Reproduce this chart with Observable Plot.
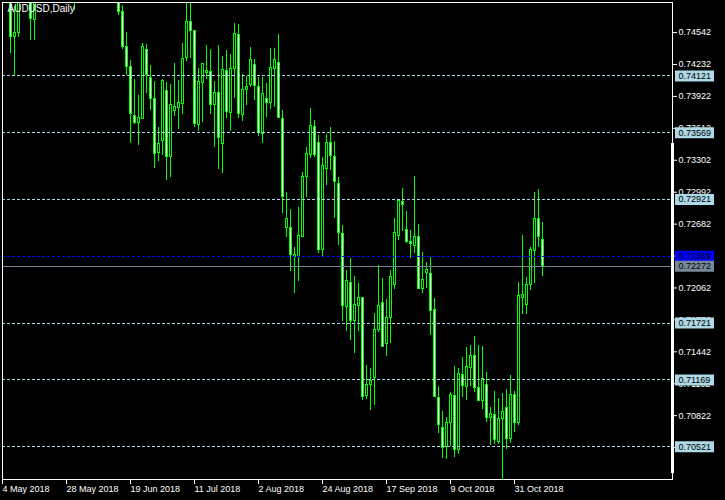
<!DOCTYPE html>
<html><head><meta charset="utf-8">
<script src="https://cdn.jsdelivr.net/npm/d3@7"></script>
<script src="https://cdn.jsdelivr.net/npm/@observablehq/plot@0.6"></script>
<style>html,body{margin:0;padding:0;background:#000;}</style>
</head><body><div id="chart"></div>
<script>
const title = "AUDUSD,Daily";
const open = [0.7520,0.7530,0.7510,0.74503,0.74539,0.7495,0.7525,0.7505,0.74666,0.7490,
0.7515,0.7500,0.7560,0.7575,0.7540,0.7580,0.7560,0.7530,0.7505,0.7565,
0.7565,0.7595,0.7615,0.7620,0.7660,0.7640,0.7605,0.7610,0.7580,0.7610,
0.74746,0.74400,0.74205,0.73727,0.73662,0.73707,0.74374,0.74102,0.73899,0.73370,
0.73487,0.73979,0.73338,0.73785,0.73811,0.73850,0.74293,0.74649,0.74555,0.73646,
0.74050,0.74147,0.74157,0.73840,0.73957,0.73462,0.74173,0.73759,0.74190,0.74523,
0.73743,0.73986,0.74034,0.74229,0.74011,0.73559,0.73899,0.73860,0.74190,0.74248,
0.73704,0.72646,0.72646,0.72360,0.72360,0.72555,0.73137,0.73355,0.73623,0.73467,
0.72426,0.73219,0.73471,0.73338,0.73073,0.72588,0.71875,0.72112,0.71739,0.71885,
0.71966,0.71011,0.71121,0.71186,0.71649,0.71918,0.71520,0.71772,0.72092,0.72564,
0.72901,0.72627,0.72513,0.72474,0.72561,0.72054,0.72205,0.72199,0.71850,0.70995,
0.70704,0.70522,0.70753,0.71008,0.70490,0.71212,0.71098,0.71287,0.71406,0.71092,
0.70962,0.71124,0.70801,0.70833,0.70564,0.70791,0.70894,0.70597,0.71024,0.70749,
0.71966,0.71898,0.72092,0.72419,0.72733,0.72523];
const high = [0.7535,0.7545,0.7520,0.7480,0.7515,0.7535,0.7540,0.7520,0.7500,0.7530,
0.7530,0.7570,0.7600,0.7585,0.7590,0.7590,0.7570,0.7540,0.7575,0.7590,
0.7605,0.7630,0.7630,0.7675,0.7675,0.7645,0.7620,0.7625,0.7625,0.7620,
0.74804,0.74542,0.74270,0.74086,0.73931,0.74438,0.74426,0.74222,0.74067,0.73623,
0.74086,0.74054,0.74034,0.74244,0.74076,0.74438,0.7490,0.7490,0.74562,0.74196,
0.74232,0.74416,0.74380,0.74069,0.74416,0.74309,0.74368,0.74329,0.74633,0.74620,
0.74132,0.74118,0.74394,0.74277,0.74108,0.74108,0.74044,0.74384,0.74384,0.74523,
0.73785,0.72986,0.72821,0.72458,0.72846,0.73180,0.73423,0.73801,0.73688,0.73539,
0.73331,0.73552,0.73617,0.73484,0.73131,0.72668,0.72231,0.72351,0.72173,0.72102,
0.71972,0.71309,0.71277,0.71811,0.72280,0.72157,0.71950,0.72231,0.72739,0.72918,
0.73025,0.72804,0.72620,0.73144,0.72678,0.72403,0.72306,0.72355,0.71956,0.71105,
0.70862,0.70807,0.71044,0.71302,0.71277,0.71389,0.71486,0.71503,0.71590,0.71503,
0.71496,0.71238,0.70898,0.71056,0.70986,0.71034,0.71073,0.71212,0.71056,0.72112,
0.72571,0.72160,0.72452,0.72986,0.73018,0.72700];
const low = [0.7490,0.7495,0.74338,0.74115,0.74491,0.7488,0.7495,0.74464,0.74464,0.7486,
0.7490,0.7495,0.7550,0.7530,0.7535,0.7550,0.7525,0.7490,0.74756,0.7550,
0.7550,0.7580,0.7590,0.7615,0.7630,0.7590,0.7585,0.7570,0.7570,0.74707,
0.74377,0.74125,0.73464,0.73649,0.73445,0.73695,0.73953,0.73785,0.73219,0.73293,
0.73345,0.73105,0.73137,0.73727,0.73600,0.73746,0.74261,0.74293,0.73623,0.73584,
0.73671,0.74089,0.73749,0.73423,0.73215,0.73170,0.73704,0.73584,0.73899,0.73704,
0.73681,0.73833,0.74011,0.73882,0.73532,0.73467,0.73720,0.73795,0.73817,0.73705,
0.72788,0.72549,0.72225,0.72011,0.72127,0.72550,0.72943,0.73316,0.73326,0.72393,
0.72355,0.73057,0.73202,0.72733,0.72474,0.71739,0.71642,0.71552,0.71428,0.71642,
0.70969,0.70976,0.70872,0.70920,0.71632,0.71486,0.71399,0.71520,0.72047,0.72523,
0.72613,0.72491,0.72345,0.72393,0.72044,0.72011,0.72054,0.71600,0.70995,0.70646,
0.70409,0.70399,0.70522,0.70418,0.70442,0.71001,0.70969,0.71108,0.71050,0.70962,
0.70879,0.70753,0.70532,0.70542,0.70542,0.70200,0.70490,0.70554,0.70661,0.70726,
0.71804,0.71804,0.72037,0.72108,0.72458,0.72176];
const close = [0.7530,0.7510,0.74503,0.74542,0.7495,0.7525,0.7505,0.74678,0.7490,0.7515,
0.7500,0.7560,0.7575,0.7540,0.7580,0.7560,0.7530,0.7505,0.7565,0.7565,
0.7595,0.7615,0.7620,0.7660,0.7640,0.7605,0.7610,0.7580,0.7610,0.74739,
0.74400,0.74205,0.73756,0.73662,0.73717,0.74406,0.74134,0.73899,0.73365,0.73462,
0.74076,0.73338,0.73843,0.73817,0.73856,0.74287,0.74649,0.74555,0.73656,0.74060,
0.74232,0.74173,0.73840,0.73957,0.73520,0.74183,0.73768,0.74190,0.74530,0.73753,
0.73986,0.74011,0.74277,0.74021,0.73564,0.73947,0.73860,0.74200,0.74277,0.73710,
0.72950,0.72733,0.72384,0.72384,0.72564,0.73144,0.73365,0.73632,0.73355,0.72432,
0.73244,0.73471,0.73341,0.73089,0.72597,0.71885,0.72125,0.71739,0.71898,0.71966,
0.71001,0.71115,0.71163,0.71656,0.71891,0.71493,0.71772,0.72173,0.72597,0.72911,
0.72869,0.72506,0.72491,0.72561,0.72054,0.72141,0.72238,0.71836,0.71001,0.70733,
0.70506,0.70753,0.71018,0.70490,0.71228,0.71108,0.71299,0.71406,0.71088,0.70969,
0.71180,0.70797,0.70840,0.70587,0.70791,0.70862,0.70597,0.71024,0.70749,0.71982,
0.71989,0.72092,0.72432,0.72733,0.72555,0.72272];

const tickBars = [0,16,32,48,64,80,96,112,128];
const tickLabels = ["4 May 2018","28 May 2018","19 Jun 2018","11 Jul 2018","2 Aug 2018","24 Aug 2018","17 Sep 2018","9 Oct 2018","31 Oct 2018"];
const yTicks = [0.74542,0.74232,0.73922,0.73612,0.73302,0.72992,0.72682,0.72372,0.72062,0.71752,0.71442,0.71132,0.70822,0.70512];
const levels = [0.74121,0.73569,0.72921,0.71721,0.71169,0.70521];
const askLevel = 0.72369;
const bidLevel = 0.72272;

const bars = open.map((o, i) => ({i, o, h: high[i], l: low[i], c: close[i], bull: close[i] >= o}));
const labelMap = new Map(tickBars.map((b, k) => [b, tickLabels[k]]));
const labelRows = [
  ...levels.map(v => ({v, bg: "#add8e6", fg: "#000000"})),
  {v: askLevel, bg: "#0000ff", fg: "#000000"},
  {v: bidLevel, bg: "#778899", fg: "#000000"}
];

const chart = Plot.plot({
  width: 725, height: 500,
  marginLeft: 2, marginRight: 53, marginTop: 2, marginBottom: 21,
  style: {background: "#000", color: "#fff", fontFamily: "'Liberation Sans', Arial, sans-serif", fontSize: "9px", overflow: "visible"},
  x: {type: "linear", domain: [0, 167.5], axis: null, label: null},
  y: {domain: [0.70202, 0.74834], axis: null, label: null},
  color: {type: "identity"},
  marks: [
    Plot.ruleX(bars, {x: "i", y1: "l", y2: "h", stroke: "#00ff00", clip: true, shapeRendering: "crispEdges"}),
    Plot.rect(bars, {x1: d => d.i - 0.25, x2: d => d.i + 0.25, y1: "o", y2: "c",
      fill: d => d.bull ? "#000000" : "#ffffff", stroke: "#00ff00", clip: true, shapeRendering: "crispEdges"}),
    Plot.ruleY(levels, {stroke: "#add8e6", strokeDasharray: "3,2", shapeRendering: "crispEdges"}),
    Plot.ruleY([askLevel], {stroke: "#0000ff", strokeDasharray: "3,2", shapeRendering: "crispEdges"}),
    Plot.ruleY([bidLevel], {stroke: "#778899", shapeRendering: "crispEdges"}),
    Plot.frame({stroke: "#ffffff", shapeRendering: "crispEdges"}),
    Plot.axisY(yTicks, {anchor: "right", label: null, tickSize: 4, tickPadding: 2, tickFormat: d => d.toFixed(5)}),
    Plot.axisX(tickBars, {anchor: "bottom", label: null, tickSize: 5, tickPadding: 1, tickFormat: d => labelMap.get(d), textAnchor: "start"}),
    Plot.ruleY(labelRows, {y: "v", x1: 168.25, x2: 178, stroke: d => d.bg, strokeWidth: 11}),
    Plot.text(labelRows, {y: "v", x: 169, text: d => d.v.toFixed(5), textAnchor: "start", fill: d => d.fg}),
    Plot.ruleX([167.5], {y1: 0.70260, y2: 0.73464, stroke: "#ffffff", strokeWidth: 3}),
    Plot.text([title], {frameAnchor: "top-left", dx: 5, dy: 2, lineAnchor: "top", fill: "#ffffff", fontSize: 10})
  ]
});
document.getElementById("chart").appendChild(chart);
</script>
</body></html>
